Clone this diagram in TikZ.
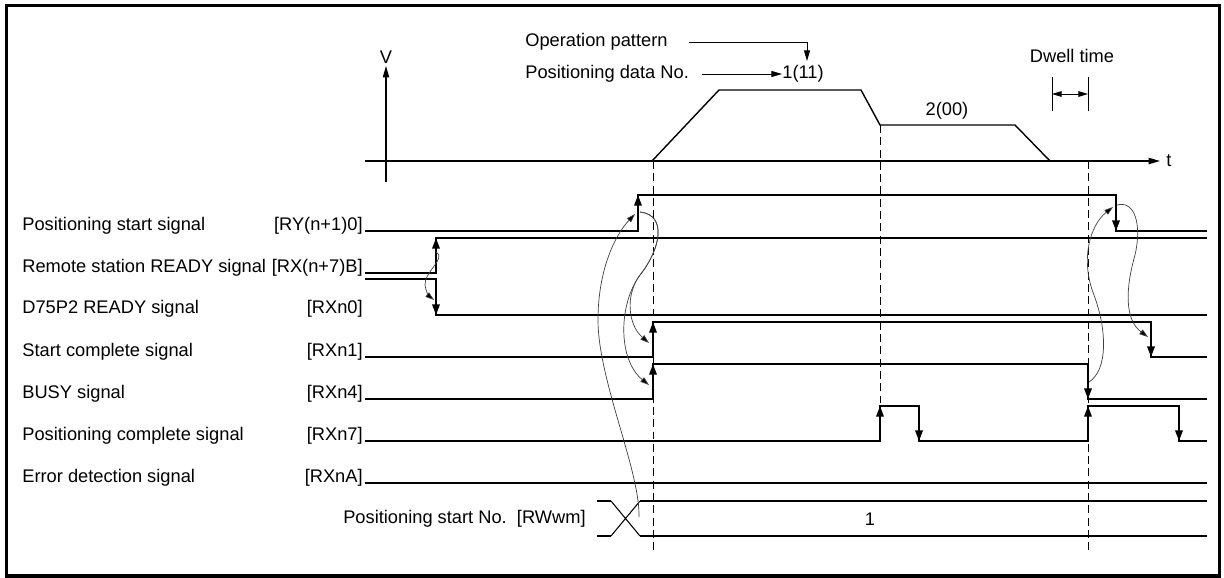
\documentclass[tikz,border=0pt]{standalone}
\usepackage{fontspec}
\setmainfont{Liberation Sans}
\usepackage{tikz}
\usetikzlibrary{arrows.meta, calc}

\begin{document}
\begin{tikzpicture}[
  x=0.02cm, y=-0.02cm,
  every node/.style={font=\fontsize{10.4}{12}\selectfont, inner sep=0pt},
  sig/.style={line width=1.1pt},
  sigedge/.style={line width=1.1pt, -{Triangle[length=6pt, width=4.2pt]}},
  axisline/.style={line width=0.7pt, -{Triangle[length=6.5pt, width=3.6pt]}},
  profile/.style={line width=0.8pt},
  guide/.style={line width=0.5pt, dash pattern=on 4.5pt off 2.5pt},
  cause/.style={line width=0.4pt, black!75, -{Triangle[length=5pt, width=3.2pt, fill=black]}},
  ptr/.style={line width=0.5pt, -{Triangle[length=6pt, width=3.4pt]}}
]
\useasboundingbox (0,0) rectangle (1224,578);

% frame
\draw[line width=2pt] (6.5,5.5) rectangle (1219.5,576);

% speed profile
\draw[axisline] (386,182) -- (386,66);
\node (V) at (386,57) {V};
\draw[axisline] (365,161) -- (1160,161);
\node[anchor=west] (T) at (1166,161) {t};
\draw[profile] (652,161) -- (719,90) -- (861,90) -- (880,125) -- (1015,125) -- (1050,161);

\node[anchor=west] (oppat) at (525,42) {Operation pattern};
\node[anchor=west] (pdno) at (525,74) {Positioning data No.};
\node[anchor=west] (pd1) at (782,74) {1(11)};
\node (pd2) at (947,111) {2(00)};
\draw[ptr] ($(oppat.east)+(21,0)$) -| (807,61);
\draw[ptr] ($(pdno.east)+(13,0)$) -- (pd1.west);

% dwell time
\node (dwell) at (1072,56) {Dwell time};
\draw[line width=0.5pt] (1052,77) -- (1052,111);
\draw[line width=0.5pt] (1088,77) -- (1088,111);
\draw[line width=0.5pt, {Triangle[length=5.5pt, width=3.2pt]}-{Triangle[length=5.5pt, width=3.2pt]}] (1052,94) -- (1088,94);

% signal names
\node[anchor=base west] (s1) at (22,230) {Positioning start signal};
\node[anchor=base west] (s2) at (22,272) {Remote station READY signal};
\node[anchor=base west] (s3) at (22,313) {D75P2 READY signal};
\node[anchor=base west] (s4) at (22,356) {Start complete signal};
\node[anchor=base west] (s5) at (22,398) {BUSY signal};
\node[anchor=base west] (s6) at (22,440) {Positioning complete signal};
\node[anchor=base west] (s7) at (22,482) {Error detection signal};
\node[anchor=base east] (b1) at (363,230) {[RY(n+1)0]};
\node[anchor=base east] (b2) at (363,272) {[RX(n+7)B]};
\node[anchor=base east] (b3) at (363,313) {[RXn0]};
\node[anchor=base east] (b4) at (363,356) {[RXn1]};
\node[anchor=base east] (b5) at (363,398) {[RXn4]};
\node[anchor=base east] (b6) at (363,440) {[RXn7]};
\node[anchor=base east] (b7) at (363,482) {[RXnA]};
\node[anchor=base east] (b8) at (586,523) {Positioning start No.\ \ [RWwm]};
\node (no1) at (870,519) {1};

% timing guides
\draw[guide] (653,161) -- (653,554);
\draw[guide] (880,125) -- (880,406);
\draw[guide] (1088,161) -- (1088,554);

% waveforms
\draw[sig] (365,231) -- (638,231) -- (638,195) -- (1116,195) -- (1116,231) -- (1207,231);
\draw[sigedge] (638,231) -- (638,195);
\draw[sigedge] (1116,195) -- (1116,231);

\draw[sig] (365,273) -- (436,273) -- (436,238) -- (1207,238);
\draw[sigedge] (436,273) -- (436,238);

\draw[sig] (365,279) -- (436,279) -- (436,315) -- (1207,315);
\draw[sigedge] (436,279) -- (436,315);

\draw[sig] (365,357) -- (653,357) -- (653,322) -- (1151,322) -- (1151,357) -- (1207,357);
\draw[sigedge] (653,357) -- (653,322);
\draw[sigedge] (1151,322) -- (1151,357);

\draw[sig] (365,399) -- (653,399) -- (653,364) -- (1088,364) -- (1088,399) -- (1207,399);
\draw[sigedge] (653,399) -- (653,364);
\draw[sigedge] (1088,364) -- (1088,399);

\draw[sig] (365,441) -- (880,441) -- (880,406) -- (919,406) -- (919,441) -- (1088,441) -- (1088,406) -- (1179,406) -- (1179,441) -- (1207,441);
\draw[sigedge] (880,441) -- (880,406);
\draw[sigedge] (919,406) -- (919,441);
\draw[sigedge] (1088,441) -- (1088,406);
\draw[sigedge] (1179,406) -- (1179,441);

\draw[sig] (365,483) -- (1207,483);

\draw[sig] (597,501) -- (611,501);
\draw[sig] (597,536) -- (611,536);
\draw[line width=0.6pt] (611,501) -- (640,536) (611,536) -- (640,501);
\draw[sig] (640,501) -- (1207,501);
\draw[sig] (640,536) -- (1207,536);

% cause and effect
\draw[cause] (436,252) .. controls (447,258) and (424,272) .. (425,285) .. controls (426,292) and (429,296) .. (434,300);
\draw[cause] (639,517) .. controls (640,470) and (598,380) .. (598,320) .. controls (598,270) and (615,235) .. (635,214);
\draw[cause] (640,212) .. controls (668,215) and (660,250) .. (640,275) .. controls (625,295) and (628,325) .. (649,343);
\draw[cause] (640,212) .. controls (668,215) and (660,250) .. (640,275) .. controls (618,305) and (618,360) .. (649,385);
\draw[cause] (1089,382) .. controls (1108,370) and (1107,330) .. (1094,295) .. controls (1080,260) and (1090,225) .. (1113,207);
\draw[cause] (1117,205) .. controls (1135,200) and (1142,225) .. (1135,255) .. controls (1125,290) and (1125,320) .. (1148,337);

\end{tikzpicture}
\end{document}
